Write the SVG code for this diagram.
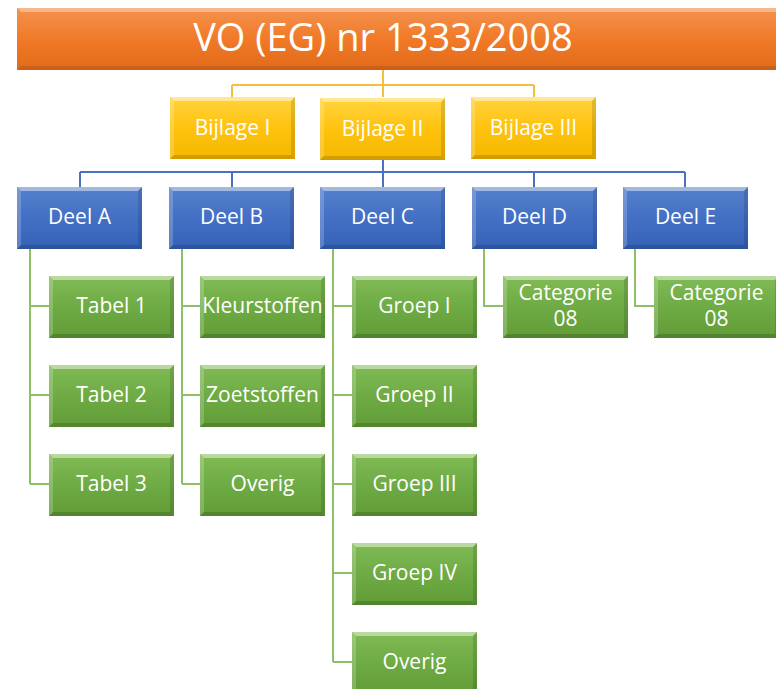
<svg xmlns="http://www.w3.org/2000/svg" xmlns:xlink="http://www.w3.org/1999/xlink" width="776" height="689" viewBox="0 0 776 689">
  <style>
    .lbl { font-family: "Open Sans", "Noto Sans", "Liberation Sans", sans-serif; fill: #ffffff; text-anchor: middle; font-size: 21px; }
    .title { font-family: "Open Sans", "Noto Sans", "Liberation Sans", sans-serif; fill: #ffffff; text-anchor: middle; font-size: 38px; }
    .c-gold { fill: none; stroke: #f2c13c; stroke-width: 2; }
    .c-blue { fill: none; stroke: #4a72c0; stroke-width: 2; }
    .c-green { fill: none; stroke: #8cbf66; stroke-width: 2; }
  </style>
  <defs>
    <linearGradient id="gOrange" x1="0" y1="0" x2="0" y2="1">
      <stop offset="0" stop-color="#f4924f"/>
      <stop offset="0.5" stop-color="#f07a28"/>
      <stop offset="1" stop-color="#e26a1a"/>
    </linearGradient>
    <linearGradient id="gYellow" x1="0" y1="0" x2="0" y2="1">
      <stop offset="0" stop-color="#ffd43f"/>
      <stop offset="0.5" stop-color="#ffc20e"/>
      <stop offset="1" stop-color="#f5b800"/>
    </linearGradient>
    <linearGradient id="gBlue" x1="0" y1="0" x2="0" y2="1">
      <stop offset="0" stop-color="#5580cc"/>
      <stop offset="0.5" stop-color="#4370c4"/>
      <stop offset="1" stop-color="#3562b6"/>
    </linearGradient>
    <linearGradient id="gGreen" x1="0" y1="0" x2="0" y2="1">
      <stop offset="0" stop-color="#80bb55"/>
      <stop offset="0.5" stop-color="#6fab44"/>
      <stop offset="1" stop-color="#619c37"/>
    </linearGradient>
    <!-- bevelled edges laid over a 125x62 box -->
    <g id="bevel">
      <polygon points="0,0 125,0 121,4 4,4" fill="#ffffff" fill-opacity="0.45"/>
      <polygon points="0,0 4,4 4,58 0,62" fill="#ffffff" fill-opacity="0.2"/>
      <polygon points="0,62 4,58 121,58 125,62" fill="#000000" fill-opacity="0.15"/>
      <polygon points="125,0 125,62 121,58 121,4" fill="#000000" fill-opacity="0.12"/>
    </g>
    <g id="box-yellow"><rect width="125" height="62" fill="url(#gYellow)"/><use xlink:href="#bevel"/></g>
    <g id="box-blue"><rect width="125" height="62" fill="url(#gBlue)"/><use xlink:href="#bevel"/></g>
    <g id="box-green"><rect width="125" height="62" fill="url(#gGreen)"/><use xlink:href="#bevel"/></g>
  </defs>

  <rect width="776" height="689" fill="#ffffff"/>

  <!-- connectors -->
  <g id="connectors">
    <path class="c-gold" d="M383,70 V85 M232,85 H534 M232,85 V97 M383,85 V97 M534,85 V97"/>
    <path class="c-blue" d="M383,159 V172 M80,172 H685 M80,172 V187 M232,172 V187 M383,172 V187 M534,172 V187 M685,172 V187"/>
    <path class="c-green" d="M30,249 V484 M30,306 H49 M30,395 H49 M30,484 H49"/>
    <path class="c-green" d="M182,249 V484 M182,306 H200 M182,395 H200 M182,484 H200"/>
    <path class="c-green" d="M333,249 V662 M333,306 H352 M333,395 H352 M333,484 H352 M333,573 H352 M333,662 H352"/>
    <path class="c-green" d="M484,249 V306 H503"/>
    <path class="c-green" d="M635,249 V306 H654"/>
  </g>

  <!-- root -->
  <g id="root">
    <rect x="17" y="8" width="765" height="62" fill="url(#gOrange)"/>
    <polygon points="17,8 782,8 782,12 21,12" fill="#ffffff" fill-opacity="0.35"/>
    <polygon points="17,70 21,66 782,66 782,70" fill="#000000" fill-opacity="0.1"/>
    <text class="title" x="383" y="51">VO (EG) nr 1333/2008</text>
  </g>

  <!-- annexes -->
  <g id="bijlage-1" transform="translate(170,97)"><use xlink:href="#box-yellow"/><text class="lbl" x="62.5" y="38">Bijlage I</text></g>
  <g id="bijlage-2" transform="translate(320,98)"><use xlink:href="#box-yellow"/><text class="lbl" x="62.5" y="38">Bijlage II</text></g>
  <g id="bijlage-3" transform="translate(471,97)"><use xlink:href="#box-yellow"/><text class="lbl" x="62.5" y="38">Bijlage III</text></g>

  <!-- parts -->
  <g id="deel-a" transform="translate(17,187)"><use xlink:href="#box-blue"/><text class="lbl" x="62.5" y="37">Deel A</text></g>
  <g id="deel-b" transform="translate(169,187)"><use xlink:href="#box-blue"/><text class="lbl" x="62.5" y="37">Deel B</text></g>
  <g id="deel-c" transform="translate(320,187)"><use xlink:href="#box-blue"/><text class="lbl" x="62.5" y="37">Deel C</text></g>
  <g id="deel-d" transform="translate(472,187)"><use xlink:href="#box-blue"/><text class="lbl" x="62.5" y="37">Deel D</text></g>
  <g id="deel-e" transform="translate(623,187)"><use xlink:href="#box-blue"/><text class="lbl" x="62.5" y="37">Deel E</text></g>

  <!-- Deel A children -->
  <g id="tabel-1" transform="translate(49,276)"><use xlink:href="#box-green"/><text class="lbl" x="62.5" y="37">Tabel 1</text></g>
  <g id="tabel-2" transform="translate(49,365)"><use xlink:href="#box-green"/><text class="lbl" x="62.5" y="37">Tabel 2</text></g>
  <g id="tabel-3" transform="translate(49,454)"><use xlink:href="#box-green"/><text class="lbl" x="62.5" y="37">Tabel 3</text></g>

  <!-- Deel B children -->
  <g id="kleurstoffen" transform="translate(200,276)"><use xlink:href="#box-green"/><text class="lbl" x="62.5" y="37">Kleurstoffen</text></g>
  <g id="zoetstoffen" transform="translate(200,365)"><use xlink:href="#box-green"/><text class="lbl" x="62.5" y="37">Zoetstoffen</text></g>
  <g id="overig-b" transform="translate(200,454)"><use xlink:href="#box-green"/><text class="lbl" x="62.5" y="37">Overig</text></g>

  <!-- Deel C children -->
  <g id="groep-1" transform="translate(352,276)"><use xlink:href="#box-green"/><text class="lbl" x="62.5" y="37">Groep I</text></g>
  <g id="groep-2" transform="translate(352,365)"><use xlink:href="#box-green"/><text class="lbl" x="62.5" y="37">Groep II</text></g>
  <g id="groep-3" transform="translate(352,454)"><use xlink:href="#box-green"/><text class="lbl" x="62.5" y="37">Groep III</text></g>
  <g id="groep-4" transform="translate(352,543)"><use xlink:href="#box-green"/><text class="lbl" x="62.5" y="37">Groep IV</text></g>
  <g id="overig-c" transform="translate(352,632)"><use xlink:href="#box-green"/><text class="lbl" x="62.5" y="37">Overig</text></g>

  <!-- Deel D / E children -->
  <g id="categorie-d" transform="translate(503,276)"><use xlink:href="#box-green"/><text class="lbl" x="62.5" y="24">Categorie</text><text class="lbl" x="62.5" y="50">08</text></g>
  <g id="categorie-e" transform="translate(654,276)"><use xlink:href="#box-green"/><text class="lbl" x="62.5" y="24">Categorie</text><text class="lbl" x="62.5" y="50">08</text></g>
</svg>
